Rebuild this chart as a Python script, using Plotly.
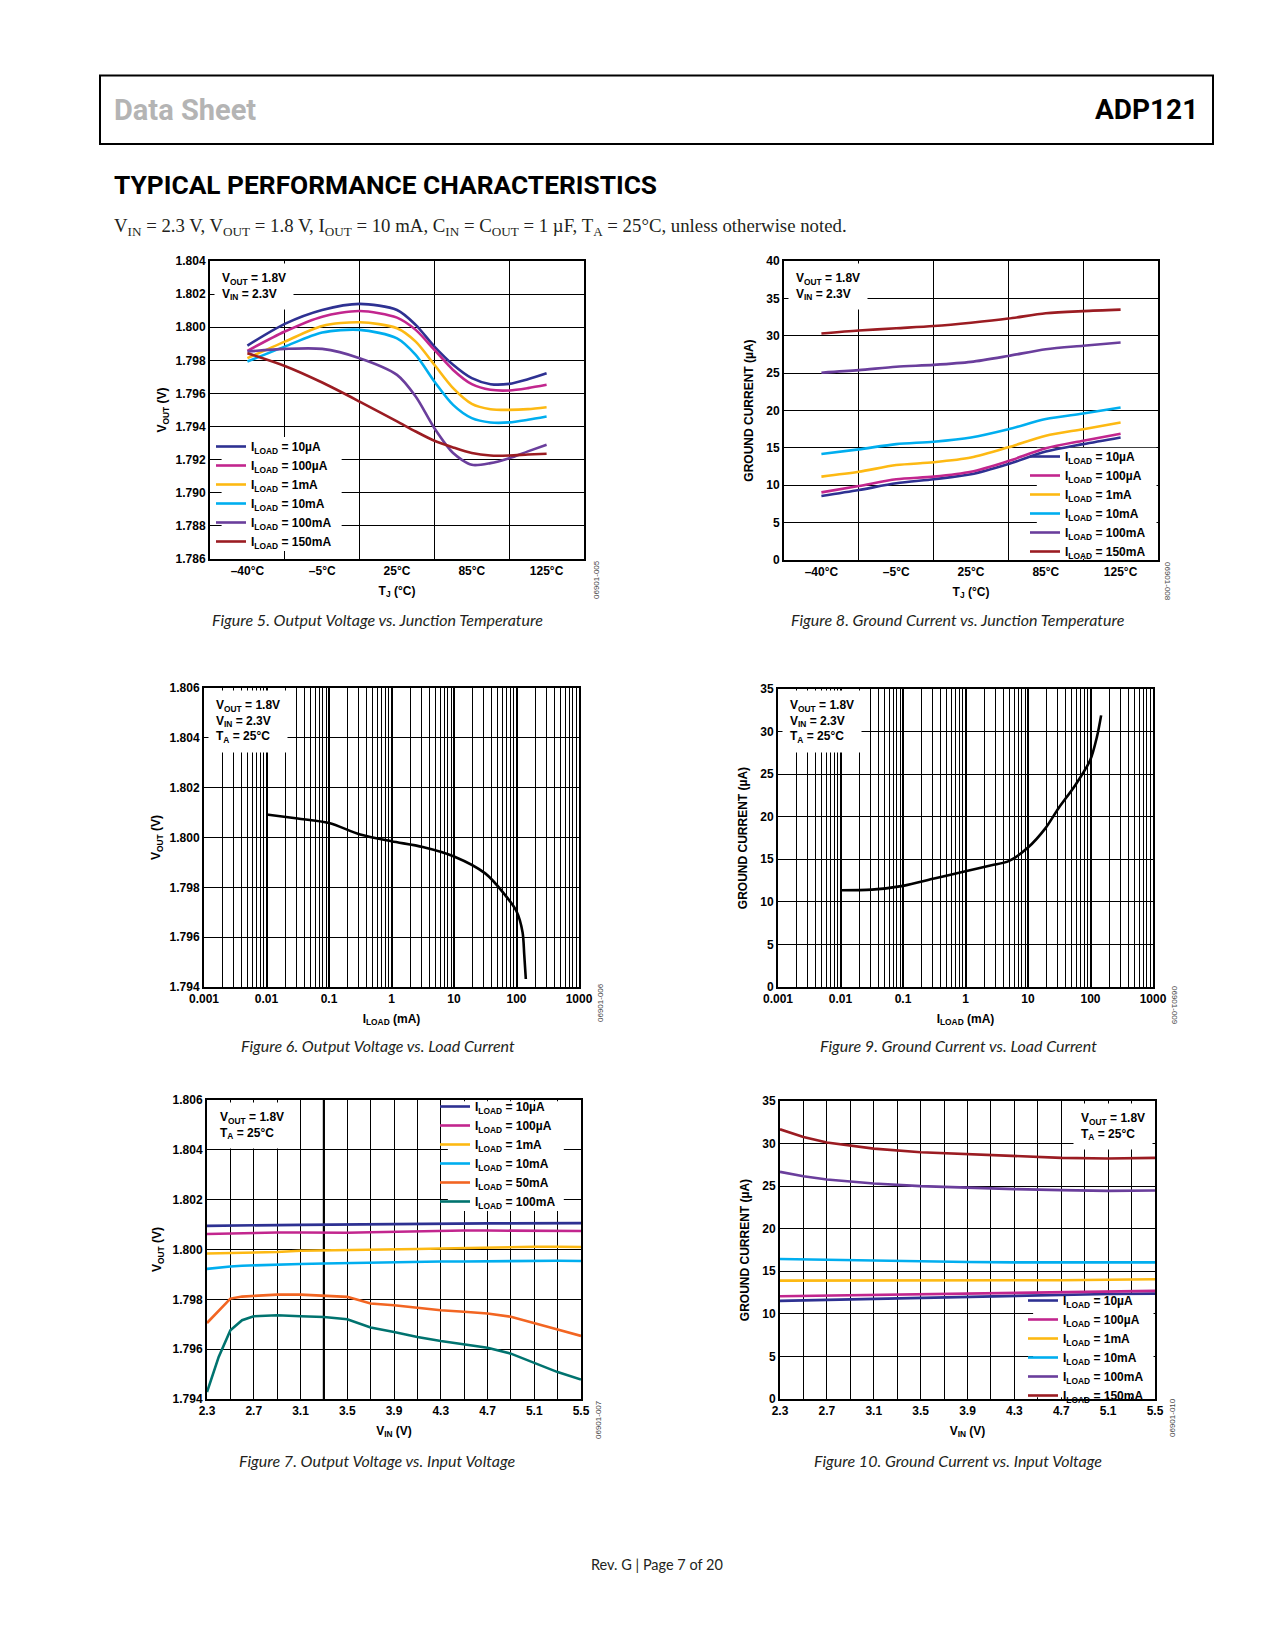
import plotly.graph_objects as go

W, H = 1275, 1650
OFF = 8  # the page body adds an 8px margin; compensate so positions match

# ---------------- data ----------------
load_labels = ["10µA", "100µA", "1mA", "10mA", "100mA", "150mA"]
tj_ticktext = ["–40°C", "–5°C", "25°C", "85°C", "125°C"]
tj_tickpos = [0.5, 1.5, 2.5, 3.5, 4.5]
tj_gridpos = [1, 2, 3, 4]

# Figure 5: VOUT vs TJ
f5_tj = [0.5, 1.0, 1.5, 2.0, 2.5, 2.75, 3.0, 3.25, 3.5, 3.75, 4.0, 4.25, 4.5]
f5_10u = [1.79889, 1.80020, 1.80104, 1.80141, 1.80104, 1.80014, 1.79883, 1.79773, 1.79692, 1.79656, 1.79658, 1.79686, 1.79722]
f5_100u = [1.79857, 1.79974, 1.80064, 1.80098, 1.80058, 1.79984, 1.79863, 1.79742, 1.79656, 1.79622, 1.79618, 1.79632, 1.79652]
f5_1m = [1.79813, 1.79913, 1.80008, 1.80030, 1.79994, 1.79913, 1.79773, 1.79632, 1.79537, 1.79505, 1.79501, 1.79505, 1.79517]
f5_10m = [1.79793, 1.79883, 1.79968, 1.79984, 1.79933, 1.79833, 1.79672, 1.79531, 1.79451, 1.79425, 1.79425, 1.79441, 1.79461]
f5_100m = [1.79853, 1.79869, 1.79869, 1.79813, 1.79712, 1.79581, 1.79390, 1.79240, 1.79169, 1.79179, 1.79209, 1.79250, 1.79290]
f5_150m = [1.79843, 1.79766, 1.79666, 1.79551, 1.79431, 1.79370, 1.79314, 1.79274, 1.79240, 1.79225, 1.79225, 1.79231, 1.79236]

# Figure 8: ground current vs TJ
f8_tj = [0.5, 1.0, 1.5, 2.0, 2.5, 3.0, 3.5, 4.0, 4.5]
f8_10u = [8.56, 9.36, 10.26, 10.8, 11.46, 12.84, 14.5, 15.5, 16.4]
f8_100u = [9.05, 9.9, 10.8, 11.15, 11.8, 13.24, 14.94, 15.96, 16.9]
f8_1m = [11.15, 11.8, 12.7, 13.07, 13.7, 15.07, 16.63, 17.5, 18.4]
f8_10m = [14.18, 14.8, 15.5, 15.83, 16.4, 17.5, 18.86, 19.6, 20.4]
f8_100m = [25.06, 25.4, 25.85, 26.1, 26.5, 27.3, 28.2, 28.67, 29.1]
f8_150m = [30.3, 30.7, 31.0, 31.3, 31.75, 32.3, 33.0, 33.3, 33.5]

# Figure 6: VOUT vs ILOAD
f6_iload = [0.01, 0.0316, 0.1, 0.316, 1, 3.16, 10, 31.6, 63, 100, 125, 133, 141]
f6_vout = [1.80092, 1.80076, 1.80058, 1.80012, 1.79985, 1.79962, 1.79924, 1.79856, 1.79775, 1.79704, 1.79620, 1.79530, 1.79432]

# Figure 9: ground current vs ILOAD
f9_iload = [0.01, 0.0316, 0.1, 0.316, 1, 2.6, 4.9, 10, 18.8, 30.6, 57, 99, 127, 148]
f9_ignd = [11.37, 11.44, 11.88, 12.74, 13.6, 14.3, 14.78, 16.38, 18.6, 20.97, 23.7, 26.65, 29.4, 31.9]

# Figure 7: VOUT vs VIN
f7_labels = ["10µA", "100µA", "1mA", "10mA", "50mA", "100mA"]
f7_vin = [2.3, 2.4, 2.5, 2.6, 2.7, 2.9, 3.1, 3.3, 3.5, 3.7, 3.9, 4.1, 4.3, 4.5, 4.7, 4.9, 5.1, 5.3, 5.5]
f7_10u = [1.80095, 1.80095, 1.80096, 1.80096, 1.80097, 1.80098, 1.80099, 1.80100, 1.80100, 1.80102, 1.80104, 1.80105, 1.80105, 1.80105, 1.80105, 1.80105, 1.80105, 1.80106, 1.80106]
f7_100u = [1.80062, 1.80063, 1.80064, 1.80066, 1.80068, 1.80068, 1.80068, 1.80067, 1.80067, 1.80069, 1.80071, 1.80074, 1.80076, 1.80076, 1.80076, 1.80076, 1.80075, 1.80074, 1.80074]
f7_1m = [1.79984, 1.79985, 1.79985, 1.79986, 1.79988, 1.79990, 1.79995, 1.79996, 1.79997, 1.79998, 1.80000, 1.80002, 1.80004, 1.80006, 1.80007, 1.80009, 1.80011, 1.80011, 1.80010]
f7_10m = [1.79922, 1.79928, 1.79932, 1.79935, 1.79937, 1.79940, 1.79942, 1.79944, 1.79946, 1.79948, 1.79950, 1.79951, 1.79952, 1.79952, 1.79953, 1.79954, 1.79956, 1.79955, 1.79954]
f7_50m = [1.79705, 1.79756, 1.79803, 1.79811, 1.79814, 1.79819, 1.79819, 1.79814, 1.79810, 1.79783, 1.79776, 1.79766, 1.79756, 1.79750, 1.79743, 1.79730, 1.79703, 1.79679, 1.79653]
f7_100m = [1.79428, 1.79569, 1.79676, 1.79716, 1.79732, 1.79736, 1.79732, 1.79729, 1.79720, 1.79687, 1.79669, 1.79649, 1.79633, 1.79620, 1.79606, 1.79582, 1.79546, 1.79508, 1.79478]

# Figure 10: ground current vs VIN
f10_vin = [2.3, 2.5, 2.7, 2.9, 3.1, 3.5, 3.9, 4.3, 4.7, 5.1, 5.5]
f10_10u = [11.52, 11.58, 11.68, 11.72, 11.78, 11.91, 12.00, 12.11, 12.22, 12.34, 12.38]
f10_100u = [12.07, 12.11, 12.15, 12.20, 12.25, 12.34, 12.42, 12.50, 12.58, 12.66, 12.70]
f10_1m = [13.90, 13.90, 13.90, 13.90, 13.90, 13.90, 13.92, 13.94, 13.95, 14.00, 14.06]
f10_10m = [16.45, 16.40, 16.33, 16.27, 16.21, 16.13, 16.09, 16.05, 16.05, 16.05, 16.05]
f10_100m = [26.68, 26.17, 25.78, 25.51, 25.31, 25.00, 24.80, 24.65, 24.53, 24.45, 24.49]
f10_150m = [31.68, 30.78, 30.12, 29.77, 29.41, 28.98, 28.75, 28.52, 28.32, 28.24, 28.32]

vout_ticks_a = [1.786, 1.788, 1.790, 1.792, 1.794, 1.796, 1.798, 1.800, 1.802, 1.804]
vout_ticks_b = [1.794, 1.796, 1.798, 1.800, 1.802, 1.804, 1.806]
ignd_ticks_a = [0, 5, 10, 15, 20, 25, 30, 35, 40]
ignd_ticks_b = [0, 5, 10, 15, 20, 25, 30, 35]
iload_ticks = [0.001, 0.01, 0.1, 1, 10, 100, 1000]
iload_ticktext = ["0.001", "0.01", "0.1", "1", "10", "100", "1000"]
vin_ticks = [2.3, 2.7, 3.1, 3.5, 3.9, 4.3, 4.7, 5.1, 5.5]
vin_grid = [2.5, 2.9, 3.3, 3.7, 4.1, 4.5, 4.9, 5.3]

# axis ranges
R_TJ = [0, 5]
R_VA = [1.786, 1.804]
R_VB = [1.794, 1.806]
R_IA = [0, 40]
R_IB = [0, 35]
R_VIN = [2.3, 5.5]

# ---------------- styling ----------------
COL = {"10µA": "#2E3192", "100µA": "#C2268E", "1mA": "#FDB913", "10mA": "#00AEEF",
       "50mA": "#F26522", "100mA": "#6A3E9C", "150mA": "#9B1C22"}
COL7 = dict(COL)
COL7["100mA"] = "#00736F"

SANS = "Liberation Sans, Arial, Helvetica, sans-serif"
BOLD12 = dict(family=SANS, size=12, color="black", weight="bold")
LW = 2.6
XSTAND = 9


def px(p):
    return (p - OFF) / W


def py(p):
    return 1 - (p - OFF) / H


def xdom(a, b):
    return [px(a), px(b)]


def ydom(top, bottom):
    return [py(bottom), py(top)]


def axis(**kw):
    d = dict(showline=True, mirror=True, linecolor="black", linewidth=2,
             showgrid=True, gridcolor="black", gridwidth=1, zeroline=False,
             ticks="", tickfont=BOLD12, title_font=BOLD12, automargin=False)
    d.update(kw)
    return d


def sub(s):
    return "I<sub>LOAD</sub> = " + s


fig = go.Figure()


def white_box(n, xr, yr, fx0, fx1, fy0, fy1):
    """White legend background: above the grid, below the curves."""
    s = "" if n == 1 else str(n)
    x0 = xr[0] + fx0 * (xr[1] - xr[0])
    x1 = xr[0] + fx1 * (xr[1] - xr[0])
    y0 = yr[0] + fy0 * (yr[1] - yr[0])
    y1 = yr[0] + fy1 * (yr[1] - yr[0])
    fig.add_trace(go.Scatter(
        x=[x0, x1, x1, x0, x0], y=[y0, y0, y1, y1, y0], mode="lines", fill="toself",
        fillcolor="white", line=dict(width=0, color="white"), showlegend=False,
        hoverinfo="skip", xaxis="x" + s, yaxis="y" + s))


white_box(1, R_TJ, R_VA, 0.031, 0.352, 0.027, 0.409)
white_box(2, R_TJ, R_IA, 0.676, 0.996, 0.004, 0.375)
white_box(5, R_VIN, R_VB, 0.644, 0.954, 0.629, 0.996)
white_box(6, R_VIN, R_IB, 0.675, 0.996, 0.006, 0.356)


def add_line(x, y, name, color, n, legend=None, shape="spline"):
    suffix = "" if n == 1 else str(n)
    fig.add_trace(go.Scatter(
        x=x, y=y, name=sub(name), mode="lines",
        line=dict(color=color, width=LW, shape=shape, smoothing=0.8),
        xaxis="x" + suffix, yaxis="y" + suffix,
        legend=legend if legend else "legend",
        showlegend=legend is not None, hoverinfo="skip"))


for lab, ys in zip(load_labels, [f5_10u, f5_100u, f5_1m, f5_10m, f5_100m, f5_150m]):
    add_line(f5_tj, ys, lab, COL[lab], 1, "legend")
for lab, ys in zip(load_labels, [f8_10u, f8_100u, f8_1m, f8_10m, f8_100m, f8_150m]):
    add_line(f8_tj, ys, lab, COL[lab], 2, "legend2")
add_line(f6_iload, f6_vout, "", "black", 3)
add_line(f9_iload, f9_ignd, "", "black", 4)
for lab, ys in zip(f7_labels, [f7_10u, f7_100u, f7_1m, f7_10m, f7_50m, f7_100m]):
    add_line(f7_vin, ys, lab, COL7[lab], 5, "legend3", shape="linear")
for lab, ys in zip(load_labels, [f10_10u, f10_100u, f10_1m, f10_10m, f10_100m, f10_150m]):
    add_line(f10_vin, ys, lab, COL[lab], 6, "legend4", shape="linear")

minor_log = [k * 10.0 ** e for e in range(-3, 3) for k in range(2, 10)]

VOUT_T = "V<sub>OUT</sub> (V)"
IG_T = "GROUND CURRENT (µA)"
TJ_T = "T<sub>J</sub> (°C)"
IL_T = "I<sub>LOAD</sub> (mA)"
VIN_T = "V<sub>IN</sub> (V)"

MINOR = dict(showgrid=True, gridcolor="black", gridwidth=1, ticks="")

layout = dict(
    template="none",
    width=W, height=H, margin=dict(l=0, r=0, t=0, b=0, pad=0, autoexpand=False),
    paper_bgcolor="white", plot_bgcolor="white", font=dict(family=SANS, color="black"),
    # Fig 5
    xaxis=axis(domain=xdom(210, 584), anchor="y", range=R_TJ, tickvals=tj_tickpos,
               ticktext=tj_ticktext, showgrid=False, minor=dict(MINOR, tickvals=tj_gridpos),
               title=dict(text=TJ_T, standoff=XSTAND)),
    yaxis=axis(domain=ydom(261, 559), anchor="x", range=R_VA, tickvals=vout_ticks_a,
               tickformat=".3f", title=dict(text=VOUT_T, standoff=6)),
    # Fig 8
    xaxis2=axis(domain=xdom(784, 1158), anchor="y2", range=R_TJ, tickvals=tj_tickpos,
                ticktext=tj_ticktext, showgrid=False, minor=dict(MINOR, tickvals=tj_gridpos),
                title=dict(text=TJ_T, standoff=XSTAND)),
    yaxis2=axis(domain=ydom(261, 560), anchor="x2", range=R_IA, tickvals=ignd_ticks_a,
                title=dict(text=IG_T, standoff=10)),
    # Fig 6
    xaxis3=axis(domain=xdom(204, 579), anchor="y3", type="log", range=[-3, 3],
                tickvals=iload_ticks, ticktext=iload_ticktext, gridwidth=1.6,
                minor=dict(MINOR, tickvals=minor_log), title=dict(text=IL_T, standoff=XSTAND)),
    yaxis3=axis(domain=ydom(688, 987), anchor="x3", range=R_VB, tickvals=vout_ticks_b,
                tickformat=".3f", title=dict(text=VOUT_T, standoff=6)),
    # Fig 9
    xaxis4=axis(domain=xdom(778, 1153), anchor="y4", type="log", range=[-3, 3],
                tickvals=iload_ticks, ticktext=iload_ticktext, gridwidth=1.6,
                minor=dict(MINOR, tickvals=minor_log), title=dict(text=IL_T, standoff=XSTAND)),
    yaxis4=axis(domain=ydom(689, 987), anchor="x4", range=R_IB, tickvals=ignd_ticks_b,
                title=dict(text=IG_T, standoff=10)),
    # Fig 7
    xaxis5=axis(domain=xdom(207, 581), anchor="y5", range=R_VIN, tickvals=vin_ticks,
                tickformat=".1f", minor=dict(MINOR, tickvals=vin_grid),
                title=dict(text=VIN_T, standoff=XSTAND)),
    yaxis5=axis(domain=ydom(1100, 1399), anchor="x5", range=R_VB, tickvals=vout_ticks_b,
                tickformat=".3f", title=dict(text=VOUT_T, standoff=8)),
    # Fig 10
    xaxis6=axis(domain=xdom(780, 1155), anchor="y6", range=R_VIN, tickvals=vin_ticks,
                tickformat=".1f", minor=dict(MINOR, tickvals=vin_grid),
                title=dict(text=VIN_T, standoff=XSTAND)),
    yaxis6=axis(domain=ydom(1101, 1399), anchor="x6", range=R_IB, tickvals=ignd_ticks_b,
                title=dict(text=IG_T, standoff=10)),
)

leg = dict(bgcolor="rgba(0,0,0,0)", borderwidth=0, font=BOLD12, itemwidth=30, tracegroupgap=0,
           itemclick=False, itemdoubleclick=False, xanchor="left", yanchor="middle")
layout["legend"] = dict(leg, x=px(211), y=py(494))
layout["legend2"] = dict(leg, x=px(1025), y=py(504))
layout["legend3"] = dict(leg, x=px(435), y=py(1154))
layout["legend4"] = dict(leg, x=px(1023), y=py(1348))

fig.update_layout(**layout)


def note(text, xp, yp, xanchor="left"):
    return dict(text=text, x=px(xp), y=py(yp), xref="paper", yref="paper",
                xanchor=xanchor, yanchor="top", align="left", showarrow=False,
                bgcolor="white", borderpad=7, font=BOLD12)


def cap(text, xp, yp):
    return dict(text=text, x=px(xp), y=py(yp), xref="paper", yref="paper",
                xanchor="center", yanchor="middle", showarrow=False,
                font=dict(family="Lato, Open Sans, sans-serif", size=16, style="italic", color="#231f20"))


def code(text, xp, yp, ang):
    return dict(text=text, x=px(xp), y=py(yp), xref="paper", yref="paper",
                xanchor="center", yanchor="middle", showarrow=False, textangle=ang,
                font=dict(family=SANS, size=8, color="#444444"))


v18 = "V<sub>OUT</sub> = 1.8V"
v23 = "V<sub>IN</sub> = 2.3V"
ta = "T<sub>A</sub> = 25°C"

HEAD = "Roboto, Liberation Sans, sans-serif"

annotations = [
    note(v18 + "<br>" + v23, 214, 262.5),
    note(v18 + "<br>" + v23, 788, 262.5),
    note(v18 + "<br>" + v23 + "<br>" + ta, 208, 689.5),
    note(v18 + "<br>" + v23 + "<br>" + ta, 782, 690.5),
    note(v18 + "<br>" + ta, 212, 1101.5),
    note(v18 + "<br>" + ta, 1153, 1102.5, xanchor="right"),
    cap("Figure 5. Output Voltage vs. Junction Temperature", 377, 620),
    cap("Figure 8. Ground Current vs. Junction Temperature", 958, 620),
    cap("Figure 6. Output Voltage vs. Load Current", 378, 1045),
    cap("Figure 9. Ground Current vs. Load Current", 958, 1045),
    cap("Figure 7. Output Voltage vs. Input Voltage", 377, 1460),
    cap("Figure 10. Ground Current vs. Input Voltage", 958, 1460),
    code("06901-005", 596, 580, -90),
    code("06901-008", 1168, 581, 90),
    code("06901-006", 600, 1003, -90),
    code("06901-009", 1175, 1005, 90),
    code("06901-007", 598, 1420, -90),
    code("06901-010", 1172, 1418, -90),
    dict(text="Data Sheet", x=px(112), y=py(110), xref="paper", yref="paper", xanchor="left",
         yanchor="middle", showarrow=False,
         font=dict(family=HEAD, size=29, color="#b4b4b4", weight="bold")),
    dict(text="ADP121", x=px(1200), y=py(110), xref="paper", yref="paper", xanchor="right",
         yanchor="middle", showarrow=False,
         font=dict(family=HEAD, size=28, color="black", weight="bold")),
    dict(text="TYPICAL PERFORMANCE CHARACTERISTICS", x=px(112), y=py(185), xref="paper",
         yref="paper", xanchor="left", yanchor="middle", showarrow=False,
         font=dict(family=HEAD, size=26.3, color="black", weight="bold")),
    dict(text="V<sub>IN</sub> = 2.3 V, V<sub>OUT</sub> = 1.8 V, I<sub>OUT</sub> = 10 mA, "
              "C<sub>IN</sub> = C<sub>OUT</sub> = 1 µF, T<sub>A</sub> = 25°C, unless otherwise noted.",
         x=px(112), y=py(227), xref="paper", yref="paper", xanchor="left", yanchor="middle",
         showarrow=False, font=dict(family="Liberation Serif, Times New Roman, serif", size=18.8,
                                    color="#231f20")),
    dict(text="Rev. G | Page 7 of 20", x=px(657), y=py(1564), xref="paper", yref="paper",
         xanchor="center", yanchor="middle", showarrow=False,
         font=dict(family="Lato, Open Sans, sans-serif", size=14.5, color="#231f20")),
]

shapes = [
    dict(type="rect", xref="paper", yref="paper", x0=px(100), x1=px(1213), y0=py(144), y1=py(75.5),
         line=dict(color="black", width=2), fillcolor="rgba(0,0,0,0)"),
    dict(type="line", xref="x5", yref="y5", x0=3.3, x1=3.3, y0=R_VB[0], y1=R_VB[1],
         line=dict(color="black", width=2.2), layer="below"),
]

fig.update_layout(annotations=annotations, shapes=shapes)
fig.write_html("out.html")
